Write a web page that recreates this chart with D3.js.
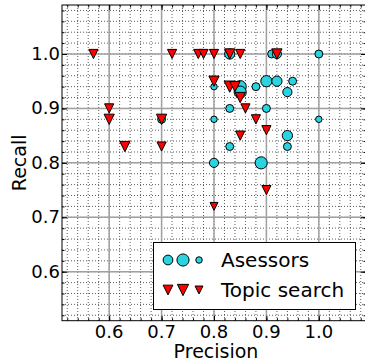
<!DOCTYPE html>
<html>
<head>
<meta charset="utf-8">
<script src="https://cdn.jsdelivr.net/npm/d3@7"></script>
<style>
  body { margin: 0; background: #fff; }
  svg { display: block; font-family: "DejaVu Sans", sans-serif; }
</style>
</head>
<body>
<svg id="chart" width="365" height="361"></svg>
<script>
// assessors (circles): precision, recall, weight (marker size)
const asPrecision = [0.83, 0.91, 0.92, 1.00, 0.80, 0.85, 0.85, 0.88, 0.90, 0.92, 0.95, 0.94, 0.83, 0.90, 0.80, 1.00, 0.94, 0.94, 0.83, 0.80, 0.89, 0.70];
const asRecall    = [1.00, 1.00, 1.00, 1.00, 0.94, 0.94, 0.93, 0.94, 0.95, 0.95, 0.95, 0.93, 0.90, 0.90, 0.88, 0.88, 0.85, 0.83, 0.83, 0.80, 0.80, 0.88];
const asWeight    = [5, 3, 4, 3, 2, 7, 7, 3, 6, 5, 3, 4, 3, 3, 2, 2, 5, 3, 3, 4, 7, 3];

// topic search (triangles)
const tsPrecision = [0.57, 0.72, 0.77, 0.78, 0.80, 0.83, 0.85, 0.92, 0.60, 0.60, 0.70, 0.63, 0.70, 0.80, 0.83, 0.84, 0.85, 0.86, 0.88, 0.90, 0.85, 0.90, 0.80];
const tsRecall    = [1.00, 1.00, 1.00, 1.00, 1.00, 1.00, 1.00, 1.00, 0.90, 0.88, 0.88, 0.83, 0.83, 0.95, 0.94, 0.94, 0.92, 0.90, 0.88, 0.86, 0.85, 0.75, 0.72];
const tsWeight    = [4, 4, 4, 4, 4, 5, 4, 5, 4, 5, 5, 5, 4, 5, 6, 5, 5, 4, 4, 4, 4, 4, 3];

const majorTicks = [0.6, 0.7, 0.8, 0.9, 1.0];
const seriesNames = ["Asessors", "Topic search"];

const svg = d3.select("#chart");
const pLeft = 62, pTop = 5, pRight = 366, pBottom = 320.7;

const x = d3.scaleLinear().domain([0.51, 1.09]).range([pLeft, pRight]);
const y = d3.scaleLinear().domain([0.51, 1.09]).range([pBottom, pTop]);
const size = d3.scaleSqrt().domain([0, 8]).range([0, 13]);   // weight -> marker diameter

const minorTicks = d3.range(0.52, 1.09, 0.02).map(v => +v.toFixed(2));

const cyan = "#2bd3e0", red = "#ff0000";

svg.append("defs").append("clipPath").attr("id", "plotclip")
  .append("rect").attr("x", pLeft).attr("y", pTop).attr("width", pRight - pLeft).attr("height", pBottom - pTop);

// minor grid (dotted)
const grid = svg.append("g");
grid.selectAll(".mx").data(minorTicks).enter().append("line")
  .attr("x1", d => x(d)).attr("x2", d => x(d)).attr("y1", pTop).attr("y2", pBottom)
  .attr("stroke", "#333").attr("stroke-width", 0.8).attr("stroke-dasharray", "1,2");
grid.selectAll(".my").data(minorTicks).enter().append("line")
  .attr("y1", d => y(d)).attr("y2", d => y(d)).attr("x1", pLeft).attr("x2", pRight)
  .attr("stroke", "#333").attr("stroke-width", 0.8).attr("stroke-dasharray", "1,2");
// major grid
grid.selectAll(".Mx").data(majorTicks).enter().append("line")
  .attr("x1", d => x(d)).attr("x2", d => x(d)).attr("y1", pTop).attr("y2", pBottom)
  .attr("stroke", "#a0a0a0").attr("stroke-width", 1.5);
grid.selectAll(".My").data(majorTicks).enter().append("line")
  .attr("y1", d => y(d)).attr("y2", d => y(d)).attr("x1", pLeft).attr("x2", pRight)
  .attr("stroke", "#a0a0a0").attr("stroke-width", 1.5);

// axes with inward ticks
function addAxis(axisFn, scale, transform, len, vals) {
  svg.append("g").attr("transform", transform)
    .call(axisFn(scale).tickValues(vals).tickSize(-len).tickFormat(""))
    .call(g => g.select(".domain").remove())
    .selectAll("line").attr("stroke", "#000").attr("stroke-width", 1);
}
addAxis(d3.axisBottom, x, `translate(0,${pBottom})`, 5, majorTicks);
addAxis(d3.axisBottom, x, `translate(0,${pBottom})`, 2.5, minorTicks);
addAxis(d3.axisTop, x, `translate(0,${pTop})`, 5, majorTicks);
addAxis(d3.axisTop, x, `translate(0,${pTop})`, 2.5, minorTicks);
addAxis(d3.axisLeft, y, `translate(${pLeft},0)`, 5, majorTicks);
addAxis(d3.axisLeft, y, `translate(${pLeft},0)`, 2.5, minorTicks);
addAxis(d3.axisRight, y, `translate(${pRight},0)`, 5, majorTicks);
addAxis(d3.axisRight, y, `translate(${pRight},0)`, 2.5, minorTicks);

svg.append("rect").attr("x", pLeft).attr("y", pTop).attr("width", pRight - pLeft).attr("height", pBottom - pTop)
  .attr("fill", "none").attr("stroke", "#000").attr("stroke-width", 1);

// tick labels
svg.append("g").selectAll("text").data(majorTicks).enter().append("text")
  .attr("x", d => x(d)).attr("y", pBottom + 17)
  .attr("text-anchor", "middle").attr("font-size", 18).text(d => d.toFixed(1));
svg.append("g").selectAll("text").data(majorTicks).enter().append("text")
  .attr("x", pLeft - 2).attr("y", d => y(d) + 6)
  .attr("text-anchor", "end").attr("font-size", 18).text(d => d.toFixed(1));

// axis labels
svg.append("text").attr("x", (pLeft + pRight) / 2 + 2).attr("y", 358)
  .attr("text-anchor", "middle").attr("font-size", 19).text("Precision");
svg.append("text").attr("transform", `translate(26,${(pTop + pBottom) / 2}) rotate(-90)`)
  .attr("text-anchor", "middle").attr("font-size", 19).text("Recall");

const tri = d3.symbol().type({
  draw(ctx, s) { const h = Math.sqrt(s) / 2; ctx.moveTo(0, h); ctx.lineTo(-h, -h); ctx.lineTo(h, -h); ctx.closePath(); }
});

const marks = svg.append("g").attr("clip-path", "url(#plotclip)");
const asData = asPrecision.map((p, i) => ({ p, r: asRecall[i], w: asWeight[i] }));
const tsData = tsPrecision.map((p, i) => ({ p, r: tsRecall[i], w: tsWeight[i] }));

marks.selectAll(".as").data(asData).enter().append("circle")
  .attr("cx", d => x(d.p)).attr("cy", d => y(d.r)).attr("r", d => size(d.w) / 2)
  .attr("fill", cyan).attr("stroke", "#000").attr("stroke-width", 1);

marks.selectAll(".ts").data(tsData).enter().append("path")
  .attr("transform", d => `translate(${x(d.p)},${y(d.r)})`)
  .attr("d", d => tri.size(size(d.w) ** 2)())
  .attr("fill", red).attr("stroke", "#000").attr("stroke-width", 1);

// legend: mid, max, min sizes like matplotlib
const lg = svg.append("g");
lg.append("rect").attr("x", 153.5).attr("y", 242.5).attr("width", 202).attr("height", 67)
  .attr("fill", "#fff").attr("stroke", "#000").attr("stroke-width", 1);
const lx = [168, 183, 199];
function legendSizes(w) { const mx = d3.max(w), mn = d3.min(w); return [(mx + mn) / 2, mx, mn]; }
lg.selectAll(".lc").data(legendSizes(asWeight)).enter().append("circle")
  .attr("cx", (d, i) => lx[i]).attr("cy", 260).attr("r", d => size(d) / 2)
  .attr("fill", cyan).attr("stroke", "#000").attr("stroke-width", 1);
lg.selectAll(".lt").data(legendSizes(tsWeight)).enter().append("path")
  .attr("transform", (d, i) => `translate(${lx[i]},290)`)
  .attr("d", d => tri.size(size(d) ** 2)())
  .attr("fill", red).attr("stroke", "#000").attr("stroke-width", 1);
lg.selectAll(".ll").data(seriesNames).enter().append("text")
  .attr("x", 221).attr("y", (d, i) => 267 + i * 30)
  .attr("font-size", 20).text(d => d);
</script>
</body>
</html>
